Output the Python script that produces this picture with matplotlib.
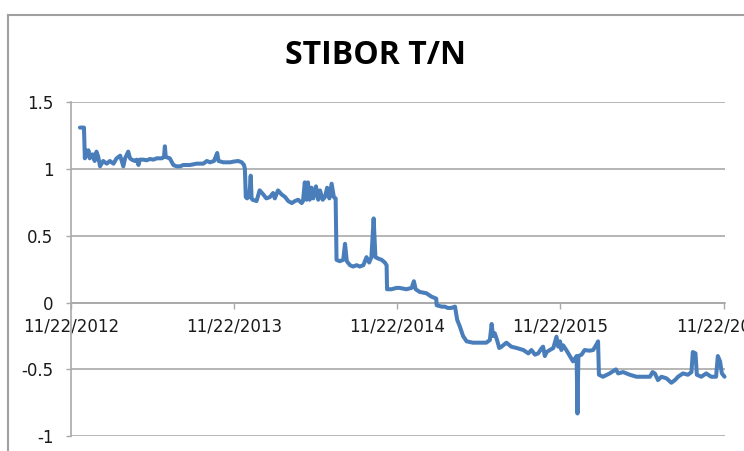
import matplotlib
matplotlib.use("Agg")
import matplotlib.pyplot as plt
import matplotlib.dates as mdates
from matplotlib.lines import Line2D
import pandas as pd

title = "STIBOR T/N"

dates_2013 = ["2012-12-12", "2012-12-21", "2012-12-23", "2012-12-25", "2012-12-28", "2012-12-31",
              "2013-01-03", "2013-01-09", "2013-01-14", "2013-01-18", "2013-01-22", "2013-01-26",
              "2013-02-02", "2013-02-10", "2013-02-17", "2013-02-25", "2013-03-04", "2013-03-12",
              "2013-03-19", "2013-03-23", "2013-03-30", "2013-04-03", "2013-04-07", "2013-04-14",
              "2013-04-18", "2013-04-22", "2013-04-25", "2013-05-03", "2013-05-10", "2013-05-18",
              "2013-05-25", "2013-06-02", "2013-06-13", "2013-06-18", "2013-06-20", "2013-06-22",
              "2013-07-01", "2013-07-09", "2013-07-16", "2013-07-24", "2013-07-31", "2013-08-15",
              "2013-08-30", "2013-09-14", "2013-09-22", "2013-09-29", "2013-10-08", "2013-10-15",
              "2013-10-18", "2013-10-29", "2013-11-05", "2013-11-13", "2013-11-20", "2013-12-01",
              "2013-12-09", "2013-12-14", "2013-12-16", "2013-12-18", "2013-12-21", "2013-12-26",
              "2013-12-29", "2013-12-31"]
values_2013 = [1.31, 1.31, 1.08, 1.14, 1.10, 1.14,
               1.08, 1.11, 1.06, 1.13, 1.09, 1.02,
               1.06, 1.04, 1.06, 1.04, 1.08, 1.10,
               1.02, 1.08, 1.13, 1.08, 1.07, 1.06,
               1.07, 1.03, 1.07, 1.07, 1.065, 1.075,
               1.07, 1.08, 1.08, 1.09, 1.17, 1.09,
               1.08, 1.03, 1.02, 1.02, 1.03, 1.03,
               1.04, 1.04, 1.06, 1.05, 1.06, 1.12,
               1.06, 1.05, 1.05, 1.05, 1.055, 1.06,
               1.05, 1.03, 1.00, 0.79, 0.78, 0.80,
               0.95, 0.78]

dates_2014 = ["2014-01-02", "2014-01-11", "2014-01-18", "2014-01-26", "2014-02-02", "2014-02-10",
              "2014-02-17", "2014-02-21", "2014-02-28", "2014-03-08", "2014-03-16", "2014-03-23",
              "2014-03-31", "2014-04-07", "2014-04-14", "2014-04-22", "2014-04-25", "2014-04-29",
              "2014-05-03", "2014-05-06", "2014-05-10", "2014-05-14", "2014-05-18", "2014-05-24",
              "2014-05-29", "2014-06-02", "2014-06-08", "2014-06-13", "2014-06-18", "2014-06-23",
              "2014-06-28", "2014-07-03", "2014-07-07", "2014-07-09", "2014-07-16", "2014-07-24",
              "2014-07-28", "2014-08-01", "2014-08-08", "2014-08-15", "2014-08-23", "2014-08-30",
              "2014-09-07", "2014-09-14", "2014-09-20", "2014-09-25", "2014-09-30", "2014-10-04",
              "2014-10-10", "2014-10-18", "2014-10-25", "2014-10-29", "2014-10-30", "2014-11-09",
              "2014-11-20", "2014-11-27", "2014-12-12", "2014-12-24", "2014-12-29"]
values_2014 = [0.77, 0.76, 0.84, 0.81, 0.78, 0.79,
               0.82, 0.78, 0.84, 0.81, 0.79, 0.76,
               0.745, 0.76, 0.77, 0.745, 0.76, 0.90,
               0.77, 0.90, 0.77, 0.86, 0.78, 0.87,
               0.77, 0.84, 0.77, 0.79, 0.86, 0.78,
               0.89, 0.79, 0.78, 0.32, 0.31, 0.32,
               0.44, 0.31, 0.28, 0.27, 0.28, 0.27,
               0.28, 0.34, 0.30, 0.34, 0.63, 0.34,
               0.33, 0.32, 0.30, 0.28, 0.10, 0.10,
               0.11, 0.11, 0.10, 0.11, 0.16]

dates_2015 = ["2015-01-02", "2015-01-11", "2015-01-26", "2015-02-06", "2015-02-17", "2015-02-18",
              "2015-03-01", "2015-03-08", "2015-03-15", "2015-03-23", "2015-03-31", "2015-04-02",
              "2015-04-05", "2015-04-11", "2015-04-18", "2015-04-26", "2015-05-10", "2015-05-25",
              "2015-06-09", "2015-06-17", "2015-06-21", "2015-06-24", "2015-06-28", "2015-07-03",
              "2015-07-08", "2015-07-13", "2015-07-24", "2015-08-04", "2015-08-16", "2015-08-31",
              "2015-09-11", "2015-09-18", "2015-09-26", "2015-10-03", "2015-10-11", "2015-10-14",
              "2015-10-18", "2015-10-22", "2015-10-29", "2015-11-06", "2015-11-13", "2015-11-17",
              "2015-11-21", "2015-11-24", "2015-11-28", "2015-12-05", "2015-12-13", "2015-12-20",
              "2015-12-28", "2015-12-30"]
values_2015 = [0.10, 0.08, 0.07, 0.045, 0.03, -0.02,
               -0.03, -0.03, -0.04, -0.04, -0.03, -0.07,
               -0.13, -0.18, -0.25, -0.29, -0.30, -0.30,
               -0.30, -0.28, -0.16, -0.25, -0.23, -0.28,
               -0.34, -0.33, -0.30, -0.33, -0.34, -0.355,
               -0.38, -0.355, -0.39, -0.38, -0.34, -0.33,
               -0.40, -0.37, -0.355, -0.34, -0.255, -0.33,
               -0.29, -0.355, -0.32, -0.355, -0.40, -0.44,
               -0.40, -0.83]

dates_2016 = ["2016-01-01", "2016-01-08", "2016-01-15", "2016-01-26", "2016-02-03", "2016-02-12",
              "2016-02-14", "2016-02-16", "2016-02-25", "2016-03-11", "2016-03-25", "2016-03-30",
              "2016-04-10", "2016-04-25", "2016-05-10", "2016-05-25", "2016-06-09", "2016-06-15",
              "2016-06-20", "2016-06-27", "2016-07-05", "2016-07-16", "2016-07-27", "2016-08-04",
              "2016-08-11", "2016-08-22", "2016-09-02", "2016-09-10", "2016-09-13", "2016-09-19",
              "2016-09-22", "2016-10-02", "2016-10-13", "2016-10-24", "2016-11-04", "2016-11-08",
              "2016-11-13", "2016-11-17", "2016-11-23"]
values_2016 = [-0.40, -0.39, -0.355, -0.36, -0.355, -0.305,
               -0.29, -0.54, -0.555, -0.53, -0.50, -0.53,
               -0.52, -0.54, -0.555, -0.555, -0.555, -0.52,
               -0.53, -0.58, -0.555, -0.567, -0.60, -0.58,
               -0.555, -0.53, -0.54, -0.52, -0.37, -0.38,
               -0.54, -0.555, -0.53, -0.555, -0.555, -0.40,
               -0.44, -0.53, -0.555]

tick_dates = ["2012-11-22", "2013-11-22", "2014-11-22", "2015-11-22", "2016-11-22"]
y_ticks = [-1, -0.5, 0, 0.5, 1, 1.5]
y_tick_labels = ["-1", "-0.5", "0", "0.5", "1", "1.5"]
x_range = ["2012-11-22", "2016-11-24"]

dates = pd.to_datetime(dates_2013 + dates_2014 + dates_2015 + dates_2016)
values = values_2013 + values_2014 + values_2015 + values_2016

W, H = 744, 451
fig = plt.figure(figsize=(W / 100, H / 100), dpi=100)
fig.patch.set_facecolor("white")

ax = fig.add_axes([71 / W, 1 - 436.2 / H, (725 - 71) / W, (436.2 - 102.2) / H])
ax.set_axisbelow(True)

grid_c = "#A9A9A9"
line_c = "#4A7EBB"
text_c = "#1A1A1A"

ax.plot(dates, values, color=line_c, lw=2.9, solid_joinstyle="round",
        solid_capstyle="round", zorder=3, clip_on=False)

ax.set_ylim(-1, 1.5)
ax.set_xlim(pd.to_datetime(x_range[0]), pd.to_datetime(x_range[1]))
ax.set_yticks(y_ticks)
ax.set_yticklabels(y_tick_labels)
ax.set_xticks(pd.to_datetime(tick_dates))
ax.xaxis.set_major_formatter(mdates.DateFormatter("%m/%d/%Y"))

ax.yaxis.grid(True, color=grid_c, lw=1.2)
ax.xaxis.grid(False)

for s in ["top", "right"]:
    ax.spines[s].set_visible(False)
ax.spines["left"].set_color(grid_c)
ax.spines["left"].set_linewidth(1.2)
ax.spines["bottom"].set_position(("data", 0))
ax.spines["bottom"].set_color(grid_c)
ax.spines["bottom"].set_linewidth(1.2)

ax.tick_params(axis="y", length=3.6, width=1.0, color=grid_c, pad=9,
               labelsize=12, labelcolor=text_c)
ax.tick_params(axis="x", length=4.0, width=1.0, color=grid_c, pad=7,
               labelsize=12, labelcolor=text_c)
for lab in ax.get_xticklabels() + ax.get_yticklabels():
    lab.set_fontfamily("DejaVu Sans")

fig.text(375.8 / W, 1 - 55 / H, title, ha="center", va="center",
         fontsize=23, fontweight="bold", family=["Open Sans", "DejaVu Sans"], color="black")

frame_c = "#A0A0A0"
fy = 1 - 15 / H
fx = 8 / W
fig.add_artist(Line2D([fx, fx], [0, fy], transform=fig.transFigure, color=frame_c, lw=1.5))
fig.add_artist(Line2D([fx, 1], [fy, fy], transform=fig.transFigure, color=frame_c, lw=1.5))

fig.savefig("out.png", dpi=100, facecolor="white")
